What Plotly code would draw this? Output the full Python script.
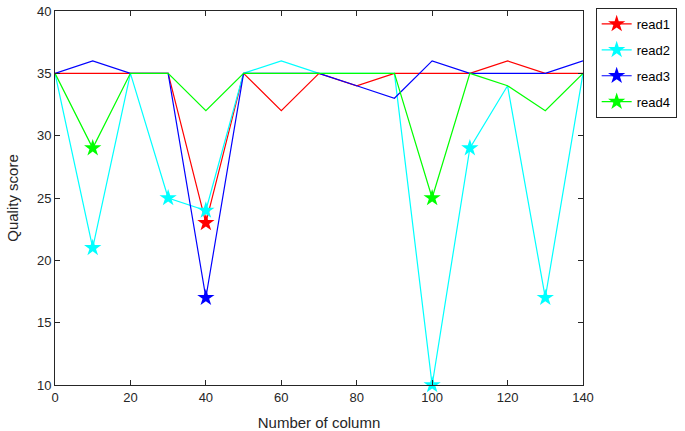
import plotly.graph_objects as go

columns = [0, 10, 20, 30, 40, 50, 60, 70, 80, 90, 100, 110, 120, 130, 140]
read1 = [35, 35, 35, 35, 23, 35, 32, 35, 34, 35, 35, 35, 36, 35, 35]
read2 = [35, 21, 35, 25, 24, 35, 36, 35, 35, 35, 10, 29, 34, 17, 35]
read3 = [35, 36, 35, 35, 17, 35, 35, 35, 34, 33, 36, 35, 35, 35, 36]
read4 = [35, 29, 35, 35, 32, 35, 35, 35, 35, 35, 25, 35, 34, 32, 35]
names = ["read1", "read2", "read3", "read4"]
colors = ["#FF0000", "#00FFFF", "#0000FF", "#00FF00"]
low_threshold = 30
x_ticks = [0, 20, 40, 60, 80, 100, 120, 140]
y_ticks = [10, 15, 20, 25, 30, 35, 40]

fig = go.Figure()
series = [read1, read2, read3, read4]
for name, vals, col in zip(names, series, colors):
    fig.add_trace(go.Scatter(x=columns, y=vals, mode="lines", line=dict(color=col, width=1.2),
                             showlegend=False, hoverinfo="skip"))
for name, vals, col in zip(names, series, colors):
    xs = [c for c, v in zip(columns, vals) if v < low_threshold]
    ys = [v for v in vals if v < low_threshold]
    fig.add_trace(go.Scatter(x=xs, y=ys, mode="markers",
                             marker=dict(symbol="star", size=13, color=col, line=dict(width=0)),
                             showlegend=False, cliponaxis=False))
for name, col in zip(names, colors):
    fig.add_trace(go.Scatter(x=[None], y=[None], mode="lines+markers", name=name,
                             legendgroup=name,
                             line=dict(color=col, width=1.2),
                             marker=dict(symbol="star", size=13, color=col, line=dict(width=0))))

axis_common = dict(showline=True, linecolor="#262626", linewidth=1, mirror="ticks",
                   ticks="inside", ticklen=5, tickcolor="#262626", showgrid=False,
                   zeroline=False, automargin=False, ticklabeloverflow="allow",
                   tickfont=dict(family="Liberation Sans, Arial", size=13, color="#262626"))
fig.update_xaxes(range=[0, 140], tickvals=x_ticks, ticklabelstandoff=0,
                 title=dict(text="Number of column", standoff=14,
                 font=dict(family="Liberation Sans, Arial", size=15, color="#262626")), **axis_common)
fig.update_yaxes(range=[10, 40], tickvals=y_ticks,
                 title=dict(text="Quality score", standoff=14,
                 font=dict(family="Liberation Sans, Arial", size=15, color="#262626")), **axis_common)

fig.update_layout(
    width=685, height=431,
    margin=dict(l=55, r=100, t=8, b=46),
    plot_bgcolor="white", paper_bgcolor="white",
    legend=dict(x=1.024, y=1.008, xanchor="left", yanchor="top", bordercolor="#262626", borderwidth=1,
                bgcolor="white", font=dict(family="Liberation Sans, Arial", size=13, color="#000000"),
                tracegroupgap=6),
)
fig.write_html("out.html", config={"displayModeBar": False},
               post_script="document.body.style.margin='0';")
